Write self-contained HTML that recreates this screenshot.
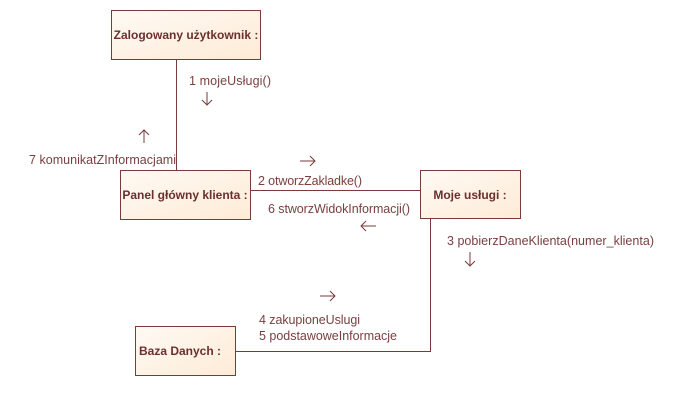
<!DOCTYPE html>
<html><head><meta charset="utf-8"><style>
body{margin:0;background:#fff;width:683px;height:401px;overflow:hidden}
</style></head><body>
<svg width="683" height="401" xmlns="http://www.w3.org/2000/svg" font-family="Liberation Sans, sans-serif">
<defs><linearGradient id="g" x1="0" y1="0" x2="1" y2="1"><stop offset="0" stop-color="#fffaf4"/><stop offset="1" stop-color="#fdebd6"/></linearGradient></defs>
<g stroke="#7b3a3a" stroke-width="1" fill="none">
<line x1="176.5" y1="59" x2="176.5" y2="170"/>
<line x1="250" y1="190.5" x2="420" y2="190.5"/>
<polyline points="430.5,218 430.5,351.5 235,351.5"/>
</g>
<g stroke="#7b3a3a" fill="url(#g)">
<rect x="111.5" y="10.5" width="149" height="49"/>
<rect x="120.5" y="170.5" width="130" height="49"/>
<rect x="420.5" y="170.5" width="100" height="48"/>
<rect x="135.5" y="326.5" width="100" height="49"/>
</g>
<g fill="#6b2f2f" font-weight="bold" font-size="12" text-anchor="middle">
<text x="186" y="39">Zalogowany użytkownik :</text>
<text x="185" y="199">Panel główny klienta :</text>
<text x="470" y="199">Moje usługi :</text>
<text x="180" y="355">Baza Danych :</text>
</g>
<g fill="#7a4040" font-size="12.5">
<text x="189" y="85" textLength="82">1 mojeUsługi()</text>
<text x="29" y="164" textLength="147">7 komunikatZInformacjami</text>
<text x="258" y="185" textLength="104">2 otworzZakladke()</text>
<text x="268" y="213" textLength="142">6 stworzWidokInformacji()</text>
<text x="447" y="245" textLength="207">3 pobierzDaneKlienta(numer_klienta)</text>
<text x="259" y="324" textLength="101">4 zakupioneUslugi</text>
<text x="259" y="340" textLength="138">5 podstawoweInformacje</text>
</g>
<g stroke="#7b3a3a" fill="none" stroke-width="1">
<path d="M207 92v13M202 100l5 5 5-5"/>
<path d="M144 130v13M139 135l5-5 5 5"/>
<path d="M300 161h15M310 156l5 5-5 5"/>
<path d="M361 226h15M366 221l-5 5 5 5"/>
<path d="M470 252v14M465 261l5 5 5-5"/>
<path d="M320 296h15M330 291l5 5-5 5"/>
</g>
</svg>
</body></html>
